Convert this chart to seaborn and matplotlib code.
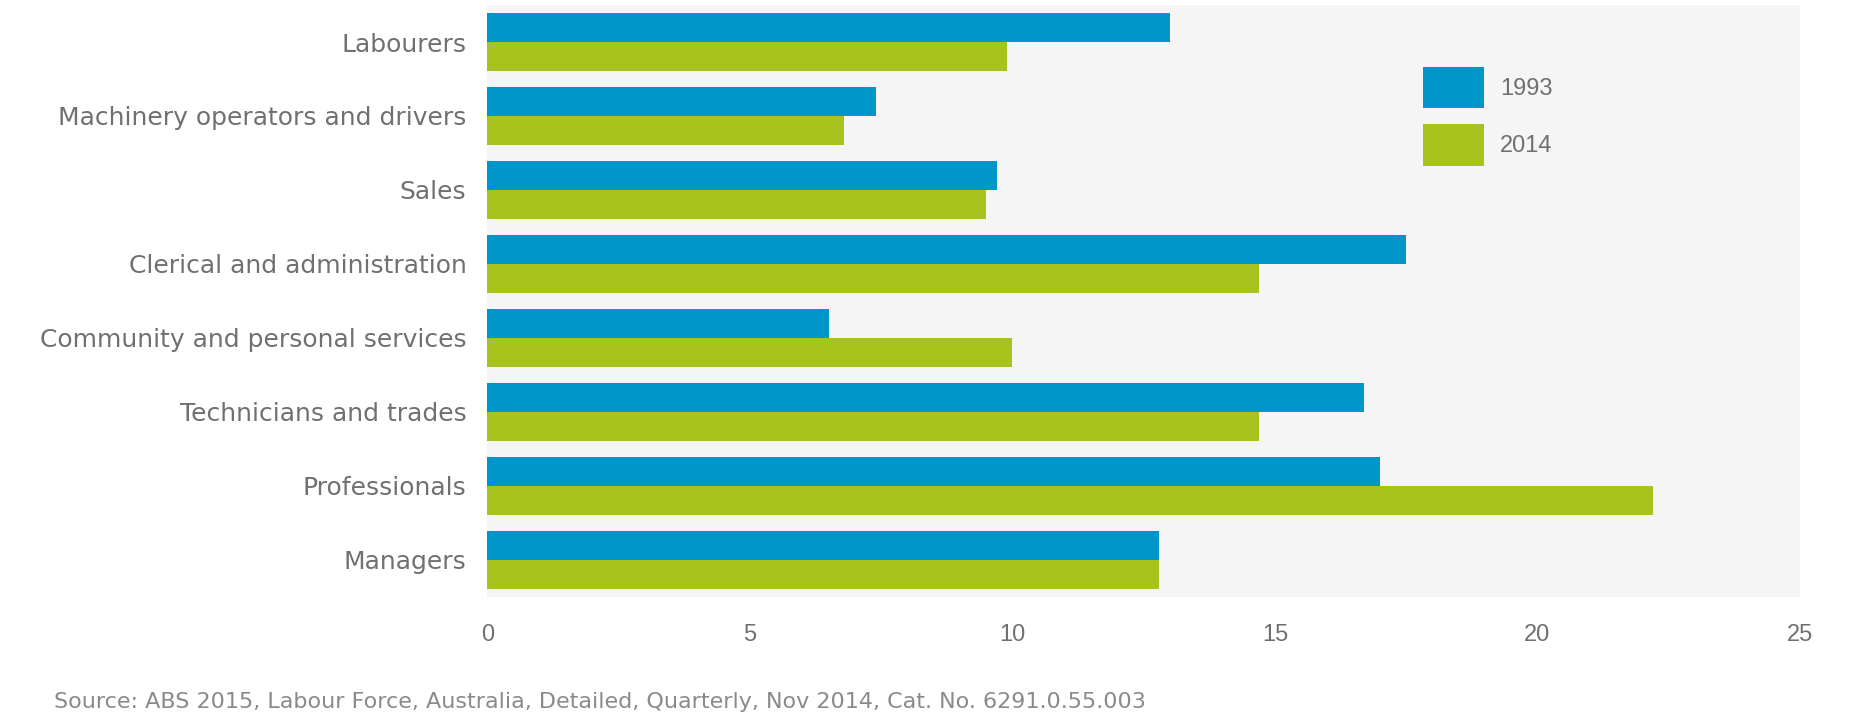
import matplotlib
matplotlib.use("Agg")
import matplotlib.pyplot as plt
import seaborn as sns
import pandas as pd
from matplotlib.patches import Patch

categories = ["Labourers", "Machinery operators and drivers", "Sales",
              "Clerical and administration", "Community and personal services",
              "Technicians and trades", "Professionals", "Managers"]
values_1993 = [13.0, 7.4, 9.7, 17.5, 6.5, 16.7, 17.0, 12.8]
values_2014 = [9.9, 6.8, 9.5, 14.7, 10.0, 14.7, 22.2, 12.8]
years = ["1993", "2014"]
x_ticks = [0, 5, 10, 15, 20, 25]
source = ("Source: ABS 2015, Labour Force, Australia, Detailed, Quarterly, "
          "Nov 2014, Cat. No. 6291.0.55.003")

df = pd.DataFrame({
    "category": categories * 2,
    "value": values_1993 + values_2014,
    "year": [years[0]] * len(categories) + [years[1]] * len(categories),
})

sns.set_theme(style="white")
plt.rcParams["font.family"] = ["Liberation Sans", "DejaVu Sans"]

colors = {"1993": "#0096c9", "2014": "#a8c21e"}

fig = plt.figure(figsize=(18.74, 7.18), dpi=100)
ax = fig.add_axes([0.260, 0.169, 0.7005, 0.824])
ax.set_facecolor("#f4f5f4")

sns.barplot(data=df, x="value", y="category", hue="year", order=categories,
            hue_order=years, palette=colors, orient="h", width=0.78,
            saturation=1, linewidth=0, ax=ax, legend=False)

ax.set_xlim(0, 25)
ax.set_ylim(7.5, -0.5)
ax.set_xticks(x_ticks)
ax.set_xticklabels([str(t) for t in x_ticks], fontfamily="Liberation Sans",
                   fontsize=17)
ax.set_yticks(range(len(categories)))
ax.set_yticklabels(categories, fontfamily="DejaVu Sans", fontsize=18)
ax.set_xlabel("")
ax.set_ylabel("")
for s in ax.spines.values():
    s.set_visible(False)
ax.tick_params(axis="both", length=0, colors="#707070")
ax.tick_params(axis="x", pad=20)
ax.tick_params(axis="y", pad=15)
ax.grid(False)

handles = [Patch(facecolor=colors[y], edgecolor="none") for y in years]
leg = ax.legend(handles, years, loc="upper left", bbox_to_anchor=(0.697, 0.932),
                frameon=False, prop={"family": "Liberation Sans", "size": 17},
                handlelength=2.55, handleheight=2.35,
                labelspacing=0.65, handletextpad=0.7, labelcolor="#707070")

fig.text(0.029, 0.008, source, fontsize=16, color="#8a8a8a", ha="left",
         va="bottom", family=["DejaVu Sans"])

fig.savefig("out.png", dpi=100, facecolor="white")
